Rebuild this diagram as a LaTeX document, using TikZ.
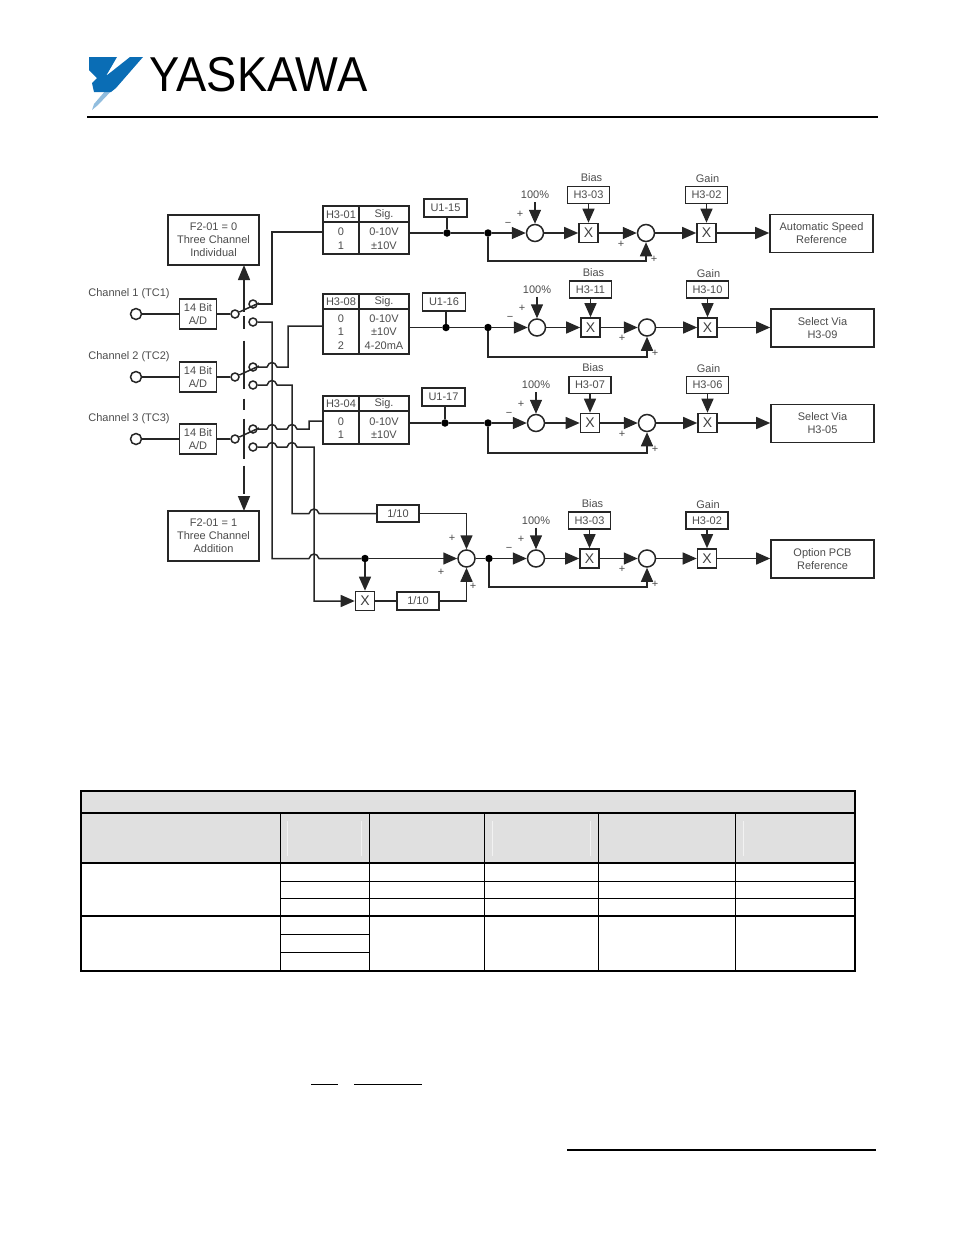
\documentclass[tikz,border=0pt]{standalone}
\usepackage{fontspec}
\setmainfont{Liberation Sans}
\usetikzlibrary{arrows.meta}

\definecolor{headgray}{HTML}{E0E0E0}
\definecolor{logoblue}{HTML}{0A6DB5}

\tikzset{
    wire/.style={line width=1.5pt, black!85},
    arr/.style={wire, -{Triangle[length=14pt,width=12pt]}},
    lab/.style={text=black!70, font=\fontsize{11}{13}\selectfont, align=center, inner sep=0pt},
    tiny/.style={text=black!70, font=\fontsize{11}{11}\selectfont, inner sep=0pt},
    block/.style={draw=black!85, line width=1.6pt, fill=white, lab, minimum width=#1},
    block/.default=42pt,
    ring/.style={draw=black!85, line width=1.5pt, circle, fill=white, inner sep=0pt, minimum size=#1},
    ring/.default=17pt,
    dot/.style={circle, fill=black, inner sep=0pt, minimum size=7.5pt},
    times/.style={block=19pt, minimum height=19pt, text=black!75, font=\fontsize{14}{14}\selectfont}
}

% wire hopping over a vertical wire
\newcommand{\hop}[2]{-- ({#1-5},#2) .. controls ({#1-3},{#2-6}) and ({#1+3},{#2-6}) .. ({#1+5},#2)}

\begin{document}
\begin{tikzpicture}[x=1pt, y=-1pt]
    \useasboundingbox (0,0) rectangle (954,1235);

    % Logo
    \fill[logoblue!45] (116,86) -- (98,105) -- (92,110) -- (94,104) -- (106,90) -- cycle;
    \fill[logoblue] (89,57) -- (117,57) -- (106,76) -- (130,57) -- (143,57) -- (116,88)
        -- (111,92) -- (94,92) -- (92,83) -- (97,78) -- (89,70) -- cycle;
    \node[inner sep=0pt, font=\fontsize{49}{49}\selectfont] (logo) at (258.5,75) {\scalebox{0.925}[1]{YASKAWA}};
    \draw[line width=2pt] (87,117) -- (878,117);

    % Mode boxes and the dashed selector
    \node[block=91pt, minimum height=50pt] (mode0) at (213.5,240) {F2-01 = 0\\Three Channel\\Individual};
    \node[block=91pt, minimum height=50pt] (mode1) at (213.5,536) {F2-01 = 1\\Three Channel\\Addition};
    \coordinate (selup) at (244,265);
    \coordinate (seldn) at (244,511);
    \draw[wire, dash pattern=on 32pt off 4pt on 13pt off 12pt on 48pt off 10pt on 11pt off 9pt on 40pt off 7pt on 28pt off 5pt on 40pt,
        {Triangle[length=15pt,width=12pt]}-{Triangle[length=15pt,width=12pt]}] (selup) -- (seldn);

    % Channel inputs
    \foreach \r/\y in {1/314, 2/377, 3/439} {
        \node[lab] (chan\r) at (129,{\y-20}) {Channel \r{} (TC\r)};
        \node[ring=11pt] (term\r) at (136,\y) {};
        \node[block=37pt, minimum height=30pt] (ad\r) at (198,\y) {14 Bit\\A/D};
        \node[ring=8pt] (piv\r) at (235,\y) {};
        \node[ring=8pt] (up\r) at (253,{\y-10}) {};
        \node[ring=8pt] (lo\r) at (253,{\y+8}) {};
        \coordinate (arm\r) at (259,{\y-11});
        \draw[wire] (term\r) -- (ad\r);
        \draw[wire] (ad\r) -- (piv\r);
        \draw[wire] (piv\r) -- (arm\r);
    }

    % Parameter tables
    \foreach \r/\nm/\ymid/\h/\yl/\yh in {1/H3-01/230/48/232/222, 2/H3-08/324/60/326/309, 3/H3-04/420/48/421/411} {
        \node[block=86pt, minimum height=\h pt] (tab\r) at (366,\ymid) {};
        \node[lab] (nm\r) at (341,{\yh-7.5}) {\nm};
        \node[lab] (sg\r) at (384,{\yh-7}) {Sig.};
        \draw[wire] (323,\yh) -- (409,\yh);
        \draw[wire] (359,{\ymid-\h/2}) -- (359,{\ymid+\h/2});
        \coordinate (tin\r) at (323,\yl);
    }
    \foreach \i/\y/\s in {0/232/0-10V, 1/246/±10V} {
        \node[lab] (ra\i) at (341,\y) {\i};
        \node[lab] (sa\i) at (384,\y) {\s};
    }
    \foreach \i/\y/\s in {0/319/0-10V, 1/332/±10V, 2/346/4-20mA} {
        \node[lab] (rb\i) at (341,\y) {\i};
        \node[lab] (sb\i) at (384,\y) {\s};
    }
    \foreach \i/\y/\s in {0/422/0-10V, 1/435/±10V} {
        \node[lab] (rc\i) at (341,\y) {\i};
        \node[lab] (sc\i) at (384,\y) {\s};
    }

    % Switch outputs, upper contacts
    \draw[wire] (up1) -- (272,304) -- (272,232) -- (tin1);
    \draw[wire] (up2) \hop{272}{367} -- (288,367) -- (288,326) -- (tin2);
    \draw[wire] (up3) \hop{272}{429} \hop{292}{429} -- (309,429) -- (309,421) -- (tin3);

    % Four output rows
    \foreach \r/\yd/\xd/\xc/\xa/\xs/\xg/\xo/\yf/\bn/\gn/\on in {
        1/233/488/535/588.5/646/706.5/821.5/261/H3-03/H3-02/Automatic Speed\\Reference,
        2/327.5/488/537/590.5/647/707.5/822.5/357/H3-11/H3-10/Select Via\\H3-09,
        3/423/488/536/590/647/707.5/822.5/453/H3-07/H3-06/Select Via\\H3-05,
        4/558.5/489/536/589.5/647/707/822.5/587/H3-03/H3-02/Option PCB\\Reference} {
        \node[dot] (dot\r) at (\xd,\yd) {};
        \node[ring] (ca\r) at (\xc,\yd) {};
        \node[times] (xa\r) at (\xa,\yd) {X};
        \node[ring] (cs\r) at (\xs,\yd) {};
        \node[times] (xg\r) at (\xg,\yd) {X};
        \node[block=103pt, minimum height=38pt] (out\r) at (\xo,{\yd+.5}) {\on};
        \node[block, minimum height=17pt] (bias\r) at (\xa,{\yd-38}) {\bn};
        \node[block, minimum height=17pt] (gain\r) at (\xg,{\yd-38}) {\gn};
        \node[lab] (bl\r) at (\xa+3,{\yd-55}) {Bias};
        \node[lab] (gl\r) at (\xg+1,{\yd-54}) {Gain};
        \node[lab] (pc\r) at (\xc,{\yd-38}) {100\%};
        \coordinate (pt\r) at (\xc,{\yd-31});
        \coordinate (fb\r) at (\xd,\yf);
        \draw[arr] (dot\r) -- (ca\r);
        \draw[arr] (ca\r) -- (xa\r);
        \draw[arr] (xa\r) -- (cs\r);
        \draw[arr] (cs\r) -- (xg\r);
        \draw[arr] (xg\r) -- (out\r.west |- xg\r);
        \draw[arr] (pt\r) -- (ca\r);
        \draw[arr] (bias\r) -- (xa\r);
        \draw[arr] (gain\r) -- (xg\r);
        \draw[arr] (dot\r) -- (fb\r) -| (cs\r);
        \node[tiny] (pa\r) at (\xc-15,{\yd-19}) {+};
        \node[tiny] (ma\r) at (\xc-27,{\yd-9}) {−};
        \node[tiny] (pb\r) at (\xs-25,{\yd+11}) {+};
        \node[tiny] (pd\r) at (\xs+8,{\yd+26}) {+};
    }

    % Monitors
    \foreach \r/\nm/\xu/\yu/\xt/\yt in {1/U1-15/445.5/208/447/233, 2/U1-16/444/302/446/327.5, 3/U1-17/443.5/397/445/423} {
        \node[block=43pt, minimum height=18pt] (mon\r) at (\xu,\yu) {\nm};
        \node[dot] (md\r) at (\xt,\yt) {};
        \coordinate (tout\r) at (409,\yt);
        \draw[wire] (mon\r.south -| md\r) -- (md\r);
        \draw[wire] (tout\r) -- (md\r) -- (dot\r);
    }

    % Addition branch
    \node[ring] (sum) at (466.5,558.5) {};
    \node[block, minimum height=17pt] (tenth) at (398,513.5) {1/10};
    \node[block, minimum height=18pt] (tenthb) at (418,601) {1/10};
    \node[times, minimum height=19pt] (mult) at (365,601) {X};
    \node[dot] (tap) at (365,558.5) {};
    \coordinate (crn) at (466.5,513.5);
    \coordinate (crs) at (466.5,601);
    \draw[wire] (lo2) \hop{272}{385} -- (292,385) -- (292,513.5) \hop{314}{513.5} -- (tenth);
    \draw[arr] (tenth) -- (crn) -- (sum);
    \draw[wire] (lo1) -- (272,322) -- (272,558.5) \hop{314}{558.5} -- (tap);
    \draw[arr] (tap) -- (sum);
    \draw[arr] (tap) -- (mult);
    \draw[arr] (lo3) \hop{272}{447} \hop{292}{447} -- (314,447) -- (314,601) -- (mult);
    \draw[wire] (mult) -- (tenthb);
    \draw[arr] (tenthb) -- (crs) -- (sum);
    \draw[wire] (sum) -- (dot4);
    \node[tiny] (ps1) at (452,538) {+};
    \node[tiny] (ps2) at (441,572) {+};
    \node[tiny] (ps3) at (473,586) {+};

    % Table below the diagram
    \fill[headgray] (81,791) rectangle (855,863);
    \foreach \x in {287,361,492,590,743}
        \draw[line width=.5pt, black!5] (\x,821) -- (\x,856);
    \foreach \x in {280,369,484,598,735}
        \draw[line width=1pt] (\x,813) -- (\x,971);
    \foreach \y in {881,898}
        \draw[line width=1pt] (280,\y) -- (855,\y);
    \foreach \y in {934,952}
        \draw[line width=1pt] (280,\y) -- (369,\y);
    \foreach \y in {813,863,916}
        \draw[line width=2.2pt] (81,\y) -- (855,\y);
    \draw[line width=2.5pt] (81,791) rectangle (855,971);

    % Rules
    \draw[line width=1pt] (311,1084) -- (338,1084);
    \draw[line width=1pt] (354,1084) -- (422,1084);
    \draw[line width=2.2pt] (567,1150) -- (876,1150);
\end{tikzpicture}
\end{document}
